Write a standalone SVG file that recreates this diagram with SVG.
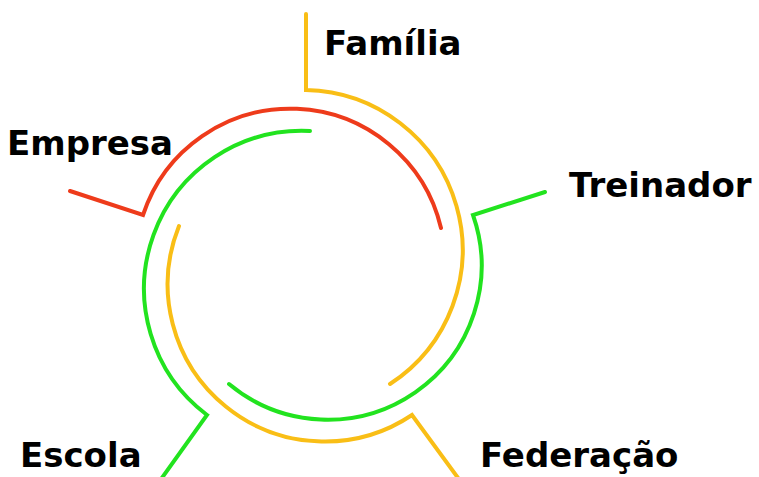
<svg xmlns="http://www.w3.org/2000/svg" width="759" height="477" viewBox="0 0 759 477">
<style>
.c{fill:none;stroke-width:4;stroke-linecap:round;stroke-linejoin:miter}
.o{stroke:#F9BE16}
.r{stroke:#EE3B1B}
.g{stroke:#22E31F}
.t{font-family:"DejaVu Sans","Liberation Sans",sans-serif;font-weight:bold;font-size:34px;fill:#000}
</style>
<rect width="759" height="477" fill="#fff"/>
<g id="connectors">
<path class="c o" d="M306,14 L306,90 A160,160 0 0 1 390,384"/>
<path class="c r" d="M70,191 L143,215 A155,155 0 0 1 441,228"/>
<path class="c g" d="M545,192 L473,215 A154,154 0 0 1 229,384"/>
<path class="c o" d="M461,482 L412,415 A157,157 0 0 1 179,226"/>
<path class="c g" d="M159,482 L207,415 A158,158 0 0 1 310,131"/>
</g>
<g id="familia"><text class="t" x="324" y="55">Família</text></g>
<g id="empresa"><text class="t" x="7" y="155">Empresa</text></g>
<g id="treinador"><text class="t" x="569" y="197">Treinador</text></g>
<g id="escola"><text class="t" x="20" y="467">Escola</text></g>
<g id="federacao"><text class="t" x="480" y="467">Federação</text></g>
</svg>
